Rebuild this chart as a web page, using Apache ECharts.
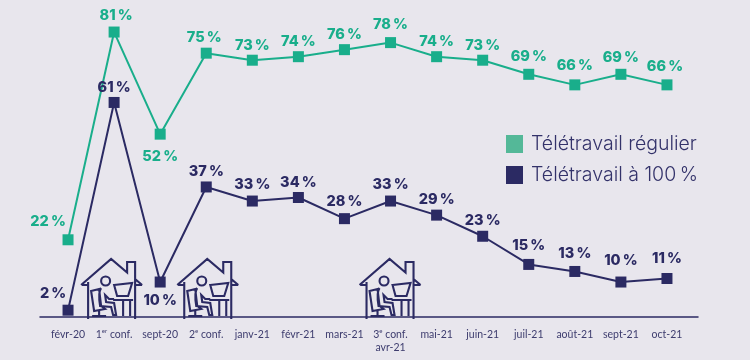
<!DOCTYPE html>
<html><head><meta charset="utf-8">
<style>html,body{margin:0;padding:0;background:#e8e6ed}#c{width:750px;height:360px}</style>
<script src="https://cdn.jsdelivr.net/npm/echarts@6/dist/echarts.min.js"></script>
</head><body><div id="c"></div>
<script>
const categories = ['févr-20','1er conf.','sept-20','2e conf.','janv-21','févr-21','mars-21','3e conf.\navr-21','mai-21','juin-21','juil-21','août-21','sept-21','oct-21'];
const regulier = [22,81,52,75,73,74,76,78,74,73,69,66,69,66];
const complet = [2,61,10,37,33,34,28,33,29,23,15,13,10,11];
const confinements = ['1er conf.','2e conf.','3e conf.\navr-21'];
const confShift = [-33,-29,-31];
const GREEN='#19ae8b', NAVY='#2b2a63';
const greenOffsets = [[-20,-18],[2,-16],[0,22],[-2,-16],[0,-15],[0,-15],[0,-15],[0,-18],[0,-15],[0,-15],[0,-18],[0,-19],[0,-17],[-2,-18]];
const navyOffsets = [[-15,-17],[0,-15],[0,19],[0,-15],[0,-16],[0,-15],[0,-17],[0,-16],[0,-15],[0,-16],[0,-19],[0,-18],[0,-21],[0,-20]];
const labelFont = {fontFamily:'Inter',fontWeight:800,fontSize:14.5};
function withLabels(values, offsets, color){
  return values.map((v,i)=>({value:v,label:{show:true,position:'inside',offset:offsets[i],color,formatter:v+'\u2009%',...labelFont}}));
}
const iconPath = [
 'M0 27 L30 1 L46 14.5 L46 4 L54 4 L54 21 L61 27',
 'M1 27 L7 27 M54 27 L61 27 M7 24 L7 61 M54 4 L54 61',
 'M20 23 a4.5 4.5 0 1 0 9 0 a4.5 4.5 0 1 0 -9 0',
 'M20 30 C17 34 18 42 19 48 L30 49 L32 57 L35 57 L33 45 L25 44 L24 37 L28 41 L33 41',
 'M10 33 L18 31 L20 48 L24 51 L13 53 Z',
 'M18 53 L18 57 M11 58 L25 58',
 'M33 27 L51 25 L47 38 L36 38 Z',
 'M32 42 L52 42 M42 42 L42 58 M49 42 L49 58'
].join(' ');
const chart = echarts.init(document.getElementById('c'),null,{renderer:'canvas'});
chart.setOption({
  backgroundColor:'#e8e6ed',
  animation:false,
  grid:[{left:45,width:645,top:0,height:319},{left:40,width:658,top:0,height:319}],
  xAxis:[{type:'category',gridIndex:0,data:categories,axisLine:{show:false},axisTick:{show:false},
    axisLabel:{interval:0,color:'#3d3c6e',margin:9,lineHeight:13,fontFamily:'Lato',fontSize:10.5,
      formatter:v=>v.replace(/^(\d)(er|e) /,'$1{s|$2} '),
      rich:{s:{fontSize:6,verticalAlign:'top',color:'#3d3c6e',fontFamily:'Lato',padding:[0,0,4,0]}}}},
    {type:'category',gridIndex:1,data:[],axisLine:{show:true,lineStyle:{color:NAVY,width:1.5}},axisTick:{show:false},axisLabel:{show:false}}],
  yAxis:[{type:'value',gridIndex:0,min:-0.5,max:90.1,show:false},{type:'value',gridIndex:1,min:-0.5,max:90.1,show:false}],
  legend:{orient:'vertical',left:506,top:134,padding:0,itemWidth:17,itemHeight:18,itemGap:11,icon:'rect',
    data:[{name:'Télétravail régulier',itemStyle:{color:'#54b898'}},{name:'Télétravail à 100\u2009%'}],
    textStyle:{color:'#33326a',fontFamily:'Inter',fontWeight:300,fontSize:19.5,lineHeight:18,padding:[0,0,0,3]}},
  series:[
   {type:'custom',name:'conf',xAxisIndex:0,yAxisIndex:0,silent:true,z:1,
    data:confinements.map(c=>[categories.indexOf(c),-0.5]),
    encode:{x:0,y:1},
    renderItem:(p,api)=>{
      const pt=api.coord([api.value(0),api.value(1)]);
      return {type:'path',x:pt[0]+confShift[p.dataIndex],y:pt[1]-60,
        shape:{pathData:iconPath,layout:'cover',x:0,y:0,width:61,height:60},
        style:{fill:'none',stroke:NAVY,lineWidth:2.1}};
    }},
   {type:'line',name:'Télétravail régulier',data:withLabels(regulier,greenOffsets,GREEN),xAxisIndex:0,yAxisIndex:0,
    color:GREEN,symbol:'rect',symbolSize:11,lineStyle:{color:GREEN,width:2},itemStyle:{color:GREEN},z:3},
   {type:'line',name:'Télétravail à 100\u2009%',data:withLabels(complet,navyOffsets,NAVY),xAxisIndex:0,yAxisIndex:0,
    color:NAVY,symbol:'rect',symbolSize:11,lineStyle:{color:NAVY,width:2},itemStyle:{color:NAVY},z:4}
  ]
});
</script></body></html>
